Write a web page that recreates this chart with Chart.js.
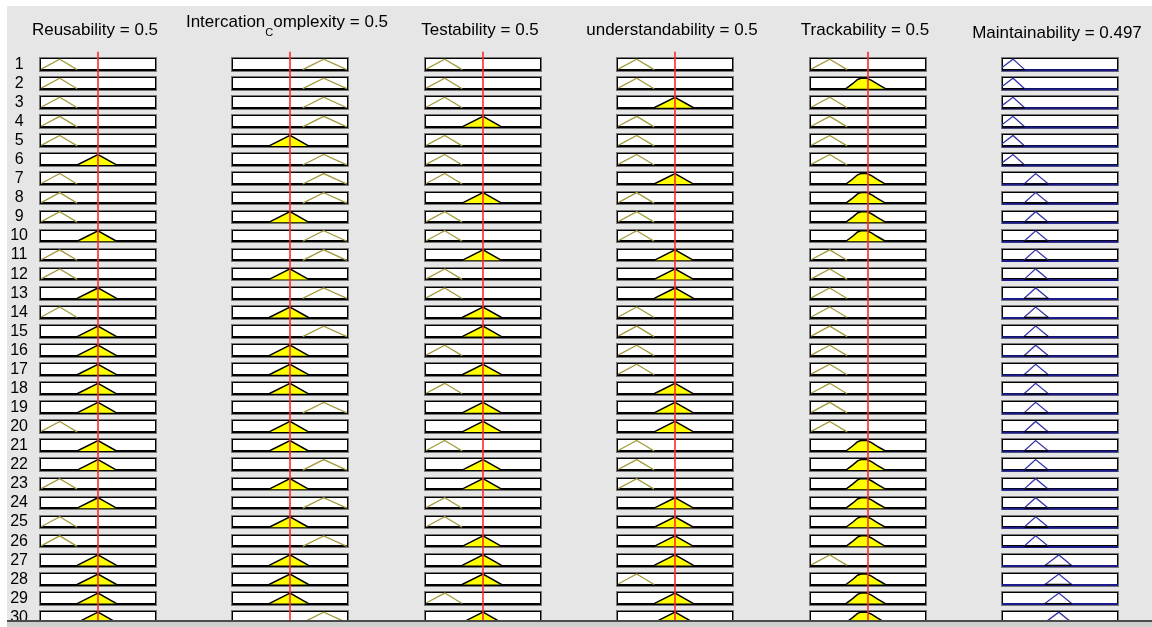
<!DOCTYPE html>
<html>
<head>
<meta charset="utf-8">
<script src="https://cdn.jsdelivr.net/npm/chart.js@4.4.1/dist/chart.umd.min.js"></script>
<style>
html, body { margin: 0; padding: 0; background: #fff; width: 1152px; height: 627px; overflow: hidden; }
#panel { position: absolute; left: 7px; top: 6px; width: 1145px; height: 614px; background: #e6e6e6; }
#foot { position: absolute; left: 7px; top: 620px; width: 1145px; height: 7px; background: #cfcfcf; border-top: 2px solid #4a4a4a; box-sizing: border-box; z-index: 5; }
canvas { position: absolute; top: 0; }
</style>
</head>
<body>
<div id="panel"></div>
<div id="foot"></div>
<script>
// rule numbers (row labels)
const ruleLabels = ['1','2','3','4','5','6','7','8','9','10','11','12','13','14','15',
                    '16','17','18','19','20','21','22','23','24','25','26','27','28','29','30'];

// inputs and their current values
const inputNames = ['Reusability', 'Intercation_Complexity', 'Testability', 'understandability', 'Trackability'];
const inputValues = [0.5, 0.5, 0.5, 0.5, 0.5];
const outputName = 'Maintainability';
const outputValue = 0.497;

// antecedent term used by each rule (L = low, M = medium, H = high)
const reusabilityRules      = ['L','L','L','L','L','M','L','L','L','M','L','L','M','L','M','M','M','M','M','L','M','M','L','M','L','L','M','M','M','M'];
const complexityRules       = ['H','H','H','H','M','H','H','H','M','H','H','M','H','M','H','M','M','M','H','M','M','H','M','H','M','H','M','M','M','H'];
const testabilityRules      = ['L','L','L','M','L','L','L','M','L','L','M','L','L','M','M','L','M','L','M','M','L','M','M','L','L','M','M','M','L','M'];
const understandabilityRules= ['L','L','M','L','L','L','M','L','L','L','M','M','M','L','L','L','L','M','M','M','L','L','L','M','M','M','M','L','M','M'];
const trackabilityRules     = ['L','M','L','L','L','L','M','M','M','M','L','L','L','L','L','L','L','L','L','L','M','M','M','M','M','M','L','M','M','M'];
// consequent term (VL = very low, L = low, M = medium)
const maintainabilityRules  = ['VL','VL','VL','VL','VL','VL','L','L','L','L','L','L','L','L','L','L','L','L','L','L','L','L','L','L','L','L','M','M','M','M'];

// membership functions as [x, degree] points
const lowMF  = [[0.01, 0.05], [0.17, 1], [0.32, 0]];
const medMF  = [[0.32, 0], [0.5, 1], [0.66, 0]];
const highMF = [[0.61, 0], [0.79, 1], [0.99, 0]];
const trackMedMF = [[0.31, 0], [0.37, 0.5], [0.41, 0.88], [0.44, 1], [0.49, 1], [0.53, 0.8], [0.58, 0.45], [0.65, 0]];
const outVeryLowMF = [[0.0, 0.2], [0.095, 1], [0.195, 0]];
const outLowMF     = [[0.19, 0], [0.29, 1], [0.40, 0]];
const outMedMF     = [[0.37, 0], [0.49, 1], [0.60, 0]];

const columns = [
  { name: inputNames[0], value: inputValues[0], rules: reusabilityRules, mfs: { L: lowMF, M: medMF, H: highMF } },
  { name: inputNames[1], value: inputValues[1], rules: complexityRules, mfs: { L: lowMF, M: medMF, H: highMF } },
  { name: inputNames[2], value: inputValues[2], rules: testabilityRules, mfs: { L: lowMF, M: medMF, H: highMF } },
  { name: inputNames[3], value: inputValues[3], rules: understandabilityRules, mfs: { L: lowMF, M: medMF, H: highMF } },
  { name: inputNames[4], value: inputValues[4], rules: trackabilityRules, mfs: { L: lowMF, M: trackMedMF, H: highMF } },
  { name: outputName, value: outputValue, rules: maintainabilityRules, mfs: { VL: outVeryLowMF, L: outLowMF, M: outMedMF }, output: true }
];

// layout
const FIRST_BOX = 40, COL_PITCH = 192.4, SIDE = 60, BOX_PX = 116, CANVAS_H = 640;
const BOX_H = 0.77, BASE = 0.66, TOP = 0.11;
const titleY = [30, 22.7, 30, 30, 30, 33.3];
const FONT = '"Liberation Sans", Arial, sans-serif';

function degreeAt(mf, x) {
  for (let i = 0; i < mf.length - 1; i++) {
    const a = mf[i], b = mf[i + 1];
    if (x >= a[0] && x <= b[0]) return a[1] + (b[1] - a[1]) * (x - a[0]) / (b[0] - a[0]);
  }
  return 0;
}

// "_" makes next char a subscript, like the TeX labels
function titleParts(name, value) {
  const parts = [];
  let buf = '';
  for (let i = 0; i < name.length; i++) {
    if (name[i] === '_' && i + 1 < name.length) {
      if (buf) parts.push({ t: buf, sub: false });
      parts.push({ t: name[i + 1], sub: true });
      buf = '';
      i++;
    } else buf += name[i];
  }
  parts.push({ t: buf + ' = ' + value, sub: false });
  return parts;
}

const boxPlugin = {
  id: 'boxes',
  beforeDatasetsDraw(chart) {
    const { ctx } = chart;
    const xs = chart.scales.x, ys = chart.scales.y;
    const L = Math.round(xs.getPixelForValue(0)) - 1;
    const R = Math.round(xs.getPixelForValue(1)) + 1;
    ctx.save();
    ruleLabels.forEach((_, i) => {
      const T = Math.round(ys.getPixelForValue(i));
      const B = Math.round(ys.getPixelForValue(i + BOX_H));
      const W = R - L, H = B - T;
      ctx.fillStyle = '#7a7a7a'; ctx.fillRect(L, T, W, H);
      ctx.fillStyle = '#000'; ctx.fillRect(L + 1, T + 1, W - 2, H - 2);
      ctx.fillStyle = '#fff'; ctx.fillRect(L + 2, T + 2, W - 4, H - 5);
    });
    ctx.restore();
  }
};

function makeColumn(k) {
  const col = columns[k];
  const cvs = document.createElement('canvas');
  cvs.width = SIDE * 2 + BOX_PX;
  cvs.height = CANVAS_H;
  cvs.style.width = cvs.width + 'px';
  cvs.style.height = CANVAS_H + 'px';
  cvs.style.left = (FIRST_BOX + k * COL_PITCH - SIDE) + 'px';
  document.body.appendChild(cvs);

  const datasets = [];
  if (!col.output) {
    datasets.push({
      data: [{ x: col.value, y: -0.28 }, { x: col.value, y: 30.5 }],
      borderColor: '#ff2a2a', borderWidth: 1.6
    });
  }
  col.rules.forEach((term, i) => {
    const mf = col.mfs[term];
    const base = i + BASE, h = BASE - TOP;
    const pts = mf.map(p => ({ x: p[0], y: base - p[1] * h }));
    if (col.output) {
      pts.push({ x: mf[0][0], y: base });
      datasets.push({
        data: pts, borderColor: '#3535ad', borderWidth: 1.3,
        segment: { borderColor: c => c.p0DataIndex === mf.length - 1 ? '#000' : undefined }
      });
      datasets.push({
        data: [{ x: 0, y: base + 0.03 }, { x: 1, y: base + 0.03 }],
        borderColor: '#1a1a8c', borderWidth: 2
      });
    } else if (degreeAt(mf, col.value) > 0) {
      datasets.push({
        data: pts, borderColor: '#000', borderWidth: 1.5,
        backgroundColor: '#ffff00', fill: { value: base }
      });
    } else {
      datasets.push({ data: pts, borderColor: '#a39b3e', borderWidth: 1.3 });
    }
  });

  const parts = titleParts(col.name, col.value);
  const headPlugin = {
    id: 'head',
    afterDraw(chart) {
      const { ctx, chartArea } = chart;
      ctx.save();
      ctx.textBaseline = 'middle';
      ctx.fillStyle = '#000';
      const widths = parts.map(p => {
        ctx.font = (p.sub ? 11 : 17) + 'px ' + FONT;
        return ctx.measureText(p.t).width;
      });
      const total = widths.reduce((a, b) => a + b, 0);
      let x = (chartArea.left + chartArea.right) / 2 - 3 - total / 2;
      parts.forEach((p, j) => {
        ctx.font = (p.sub ? 11 : 17) + 'px ' + FONT;
        ctx.fillText(p.t, x, titleY[k] + (p.sub ? 10.3 : 0));
        x += widths[j];
      });
      ctx.restore();
    }
  };

  const yScale = {
    type: 'linear', min: -0.5, max: 30, reverse: true,
    display: k === 0,
    grid: { display: false, drawTicks: false },
    border: { display: false },
    afterBuildTicks(s) { s.ticks = ruleLabels.map((_, i) => ({ value: i + BOX_H / 2 })); },
    ticks: {
      autoSkip: false, crossAlign: 'center', padding: 12, color: '#000',
      font: { size: 16, family: FONT },
      callback: (v, idx) => ruleLabels[idx]
    }
  };
  if (k === 0) {
    yScale.afterFit = s => { s.width = 36; s.paddingTop = 0; s.paddingBottom = 0; };
  }

  new Chart(cvs, {
    type: 'line',
    data: { datasets },
    options: {
      responsive: false,
      animation: false,
      events: [],
      layout: { autoPadding: false, padding: { left: k === 0 ? SIDE - 36 : SIDE, right: SIDE, top: 47.5, bottom: 10.9 } },
      elements: { point: { radius: 0 }, line: { tension: 0 } },
      plugins: { legend: { display: false }, tooltip: { enabled: false }, title: { display: false } },
      scales: {
        x: { type: 'linear', min: 0, max: 1, display: false },
        y: yScale
      }
    },
    plugins: [boxPlugin, headPlugin]
  });
}

columns.forEach((c, k) => makeColumn(k));
</script>
</body>
</html>
